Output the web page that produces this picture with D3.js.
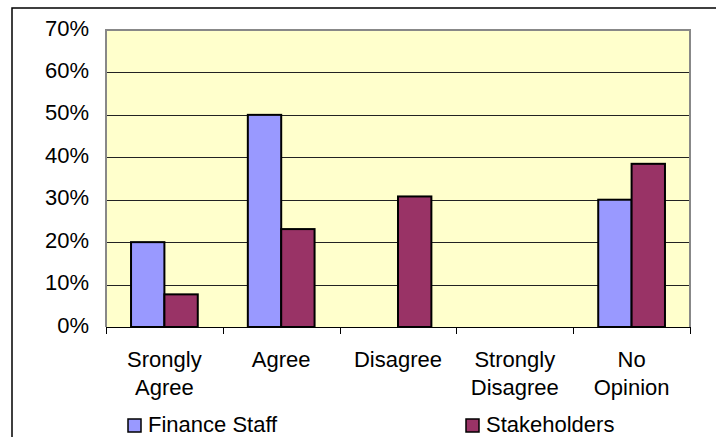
<!DOCTYPE html>
<html>
<head>
<meta charset="utf-8">
<script src="https://cdn.jsdelivr.net/npm/d3@7"></script>
<style>
  html, body { margin: 0; padding: 0; background: #fff; }
  svg { display: block; }
  text { font-family: "Liberation Sans", Arial, sans-serif; fill: #000; }
</style>
</head>
<body>
<svg id="chart" width="716" height="437"></svg>
<script>
// Survey responses by group (share of respondents)
const categories = [["Srongly", "Agree"], ["Agree"], ["Disagree"], ["Strongly", "Disagree"], ["No", "Opinion"]];
const seriesNames = ["Finance Staff", "Stakeholders"];
const financeStaff = [0.20, 0.50, 0, 0, 0.30];
const stakeholders = [1 / 13, 3 / 13, 4 / 13, 0, 5 / 13];
const yTicks = [0, 0.1, 0.2, 0.3, 0.4, 0.5, 0.6, 0.7];
const colors = ["#9999FF", "#993366"];

const svg = d3.select("#chart");
const plot = { left: 106, top: 30, right: 690, bottom: 327 };
const fontSize = 22;

// Outer chart frame (runs past the right and bottom of the view)
svg.append("rect")
  .attr("x", 12).attr("y", 8)
  .attr("width", 760).attr("height", 500)
  .attr("fill", "none").attr("stroke", "#000").attr("stroke-width", 1.5);

const catKeys = categories.map((c, i) => i);
const x0 = d3.scaleBand().domain(catKeys).range([plot.left, plot.right]).padding(0);
const x1 = d3.scaleBand().domain(seriesNames).range([0, x0.bandwidth()])
  .paddingInner(0).paddingOuter(0.75);
const y = d3.scaleLinear().domain([0, 0.7]).range([plot.bottom, plot.top]);

// Plot area background
svg.append("rect")
  .attr("x", plot.left).attr("y", plot.top)
  .attr("width", plot.right - plot.left).attr("height", plot.bottom - plot.top)
  .attr("fill", "#FFFFCC");

// Horizontal gridlines
svg.append("g").selectAll("line")
  .data(yTicks.filter(t => t > 0 && t < 0.7))
  .join("line")
  .attr("x1", plot.left).attr("x2", plot.right)
  .attr("y1", d => Math.round(y(d)) + 0.5).attr("y2", d => Math.round(y(d)) + 0.5)
  .attr("stroke", "#222").attr("stroke-width", 1);

// Plot area border (top, left, right)
svg.append("path")
  .attr("d", `M${plot.left},${plot.bottom} V${plot.top} H${plot.right} V${plot.bottom}`)
  .attr("fill", "none").attr("stroke", "#888").attr("stroke-width", 2);

// Bars
const rows = catKeys.map(i => ({ i, vals: [financeStaff[i], stakeholders[i]] }));
const groups = svg.append("g").selectAll("g")
  .data(rows).join("g")
  .attr("transform", d => `translate(${x0(d.i)},0)`);
groups.selectAll("rect")
  .data(d => d.vals.map((v, k) => ({ v, k })).filter(e => e.v > 0))
  .join("rect")
  .attr("x", e => x1(seriesNames[e.k]))
  .attr("width", x1.bandwidth())
  .attr("y", e => y(e.v))
  .attr("height", e => y(0) - y(e.v))
  .attr("fill", e => colors[e.k])
  .attr("stroke", "#000").attr("stroke-width", 2);

// X axis line and category ticks
const xAxis = svg.append("g");
xAxis.append("line")
  .attr("x1", plot.left).attr("x2", plot.right)
  .attr("y1", plot.bottom + 0.5).attr("y2", plot.bottom + 0.5)
  .attr("stroke", "#000").attr("stroke-width", 1.2);
const boundaries = catKeys.map(i => x0(i)).concat([plot.right]);
xAxis.selectAll("line.tick")
  .data(boundaries).join("line")
  .attr("class", "tick")
  .attr("x1", d => Math.round(d) + 0.5).attr("x2", d => Math.round(d) + 0.5)
  .attr("y1", plot.bottom).attr("y2", plot.bottom + 7)
  .attr("stroke", "#000").attr("stroke-width", 1);

// Category labels
const labels = svg.append("g").selectAll("text")
  .data(rows).join("text")
  .attr("x", d => x0(d.i) + x0.bandwidth() / 2)
  .attr("y", 366.5)
  .attr("text-anchor", "middle")
  .attr("font-size", fontSize);
labels.selectAll("tspan")
  .data(d => categories[d.i])
  .join("tspan")
  .attr("x", function () { return this.parentNode.getAttribute("x"); })
  .attr("dy", (d, k) => k === 0 ? 0 : 28.5)
  .text(d => d);

// Y tick labels
svg.append("g").selectAll("text")
  .data(yTicks).join("text")
  .attr("x", 89)
  .attr("y", d => y(d) + 5.5)
  .attr("text-anchor", "end")
  .attr("font-size", fontSize)
  .text(d => d3.format(".0%")(d));

// Legend
const legendX = [128, 466];
const legend = svg.append("g").selectAll("g")
  .data(seriesNames).join("g")
  .attr("transform", (d, k) => `translate(${legendX[k]},419)`);
legend.append("rect")
  .attr("width", 13).attr("height", 13)
  .attr("fill", (d, k) => colors[k])
  .attr("stroke", "#000").attr("stroke-width", 1.5);
legend.append("text")
  .attr("x", 20).attr("y", 13)
  .attr("font-size", fontSize)
  .text(d => d);
</script>
</body>
</html>
